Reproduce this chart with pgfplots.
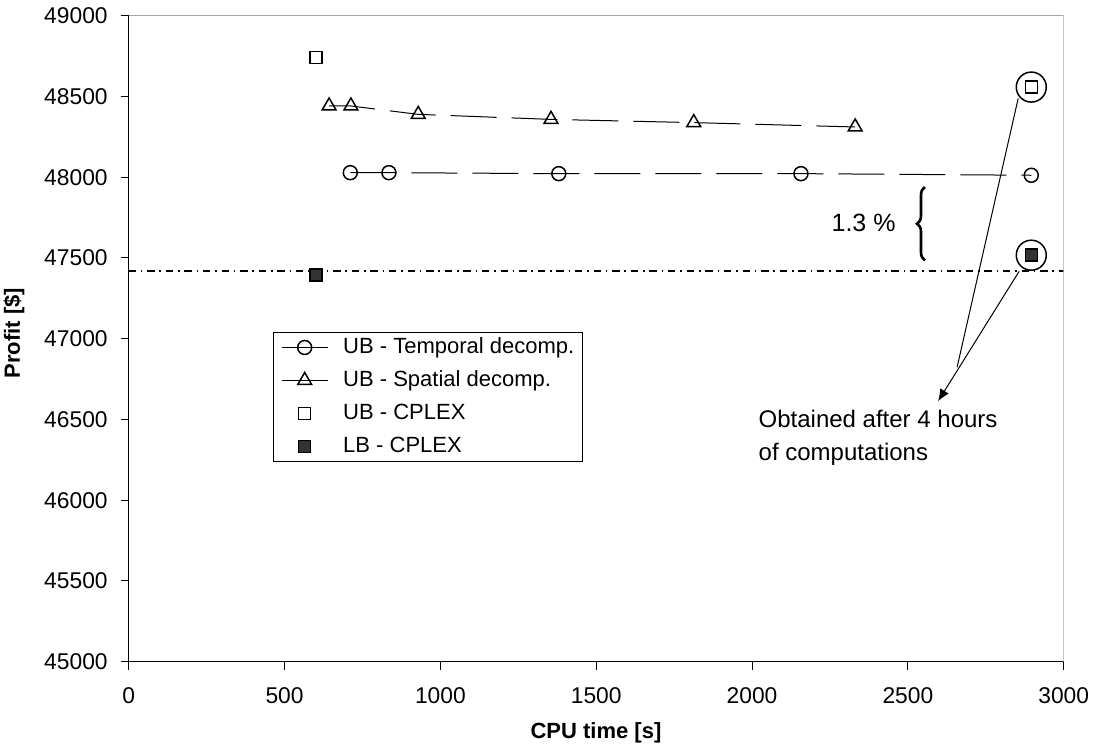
\documentclass[border=0pt]{standalone}
\usepackage{fontspec}
\setmainfont{Liberation Sans}
\usepackage{pgfplots}
\pgfplotsset{compat=1.18}
\usetikzlibrary{arrows.meta,decorations.pathreplacing}
\definecolor{lbfill}{HTML}{333333}
\begin{document}
\begin{tikzpicture}
\path[use as bounding box] (-64.35pt,-44.15pt) rectangle (484.65pt,330.85pt);
\begin{axis}[
  scale only axis,
  width=467.5pt,
  height=323pt,
  xmin=0, xmax=3000,
  ymin=45000, ymax=49000,
  xtick distance=500,
  ytick distance=500,
  scaled y ticks=false,
  scaled x ticks=false,
  axis x line*=bottom,
  axis y line*=left,
  tick align=outside,
  major tick length=4pt,
  tick style={black,line width=0.5pt},
  axis line style={black,line width=0.5pt},
  /pgf/number format/set thousands separator={},
  /pgf/number format/assume math mode=true,
  tick label style={font=\fontsize{11.4}{13}\selectfont},
  yticklabel style={xshift=-3pt},
  xticklabel style={yshift=-5.5pt},
  xlabel={CPU time [s]},
  ylabel={Profit [\$]},
  label style={font=\fontsize{11}{13}\selectfont\bfseries},
  xlabel style={at={(axis description cs:0.4998,-0.1103)},anchor=center},
  ylabel style={at={(axis description cs:-0.1227,0.5085)},anchor=center},
  legend style={at={(0.154,0.5101)},anchor=north west,draw=black,line width=0.5pt,
    font=\fontsize{11}{13}\selectfont,inner xsep=4pt,inner ysep=2.2pt,
    row sep=6.1pt,column sep=7.5pt,
    nodes={inner sep=0pt,text height=8pt,text depth=2.4pt}},
  legend cell align=left,
  legend image code/.code={\draw[mark repeat=2,mark phase=2,#1] plot coordinates {(0pt,0pt) (11.5pt,0pt) (23pt,0pt)};},
  legend image post style={solid},
]
% upper bound, temporal decomposition
\addplot[black,line width=0.5pt,dash pattern=on 23pt off 7.5pt,
  mark=o,mark size=3.5pt,mark options={solid,line width=0.75pt}]
  coordinates {(711,48028) (835,48028) (1380,48022) (2157,48022) (2896,48012)};
% upper bound, spatial decomposition
\addplot[black,line width=0.5pt,dash pattern=on 23pt off 7.5pt,
  mark=triangle,mark size=4pt,mark options={solid,line width=0.75pt}]
  coordinates {(643,48441) (713,48441) (929,48389) (1355,48358) (1813,48338) (2331,48311)};
% CPLEX bounds
\addplot[only marks,black,mark=square,mark size=3pt,mark options={line width=0.75pt}]
  coordinates {(601,48740) (2896,48558)};
\addplot[only marks,black,mark=square*,mark size=3pt,mark options={line width=0.75pt,fill=lbfill}]
  coordinates {(601,47393) (2896,47517)};
\legend{UB - Temporal decomp.,UB - Spatial decomp.,UB - CPLEX,LB - CPLEX}
% circles around the 4 hour results
\addplot[only marks,black,mark=o,mark size=7.5pt,mark options={line width=0.75pt},forget plot]
  coordinates {(2896,48558) (2896,47517)};
% best lower bound
\addplot[black,line width=1pt,dash pattern=on 3.7pt off 2.4pt on 0.8pt off 2.4pt,forget plot]
  coordinates {(0,47420) (3000,47420)};
\draw[gray!70,line width=0.5pt] (rel axis cs:0,1) -- (rel axis cs:1,1) -- (rel axis cs:1,0);
\draw[black,line width=0.5pt] (axis cs:2854,48488) -- (axis cs:2658,46823);
\draw[black,line width=0.5pt,-{Latex[length=6pt,width=5pt]}] (axis cs:2857,47417) -- (axis cs:2597,46613);
\draw[decorate,decoration={brace,amplitude=4pt},line width=1.3pt] (axis cs:2555,47485) -- (axis cs:2555,47939);
\node[font=\fontsize{12.5}{15}\selectfont,anchor=center] at (axis cs:2358,47714) {1.3 \%};
\node[font=\fontsize{12}{15}\selectfont,anchor=base west,inner sep=0pt] at (axis cs:2020,46452) {Obtained after 4 hours};
\node[font=\fontsize{12}{15}\selectfont,anchor=base west,inner sep=0pt] at (axis cs:2020,46248) {of computations};
\end{axis}
\end{tikzpicture}
\end{document}
